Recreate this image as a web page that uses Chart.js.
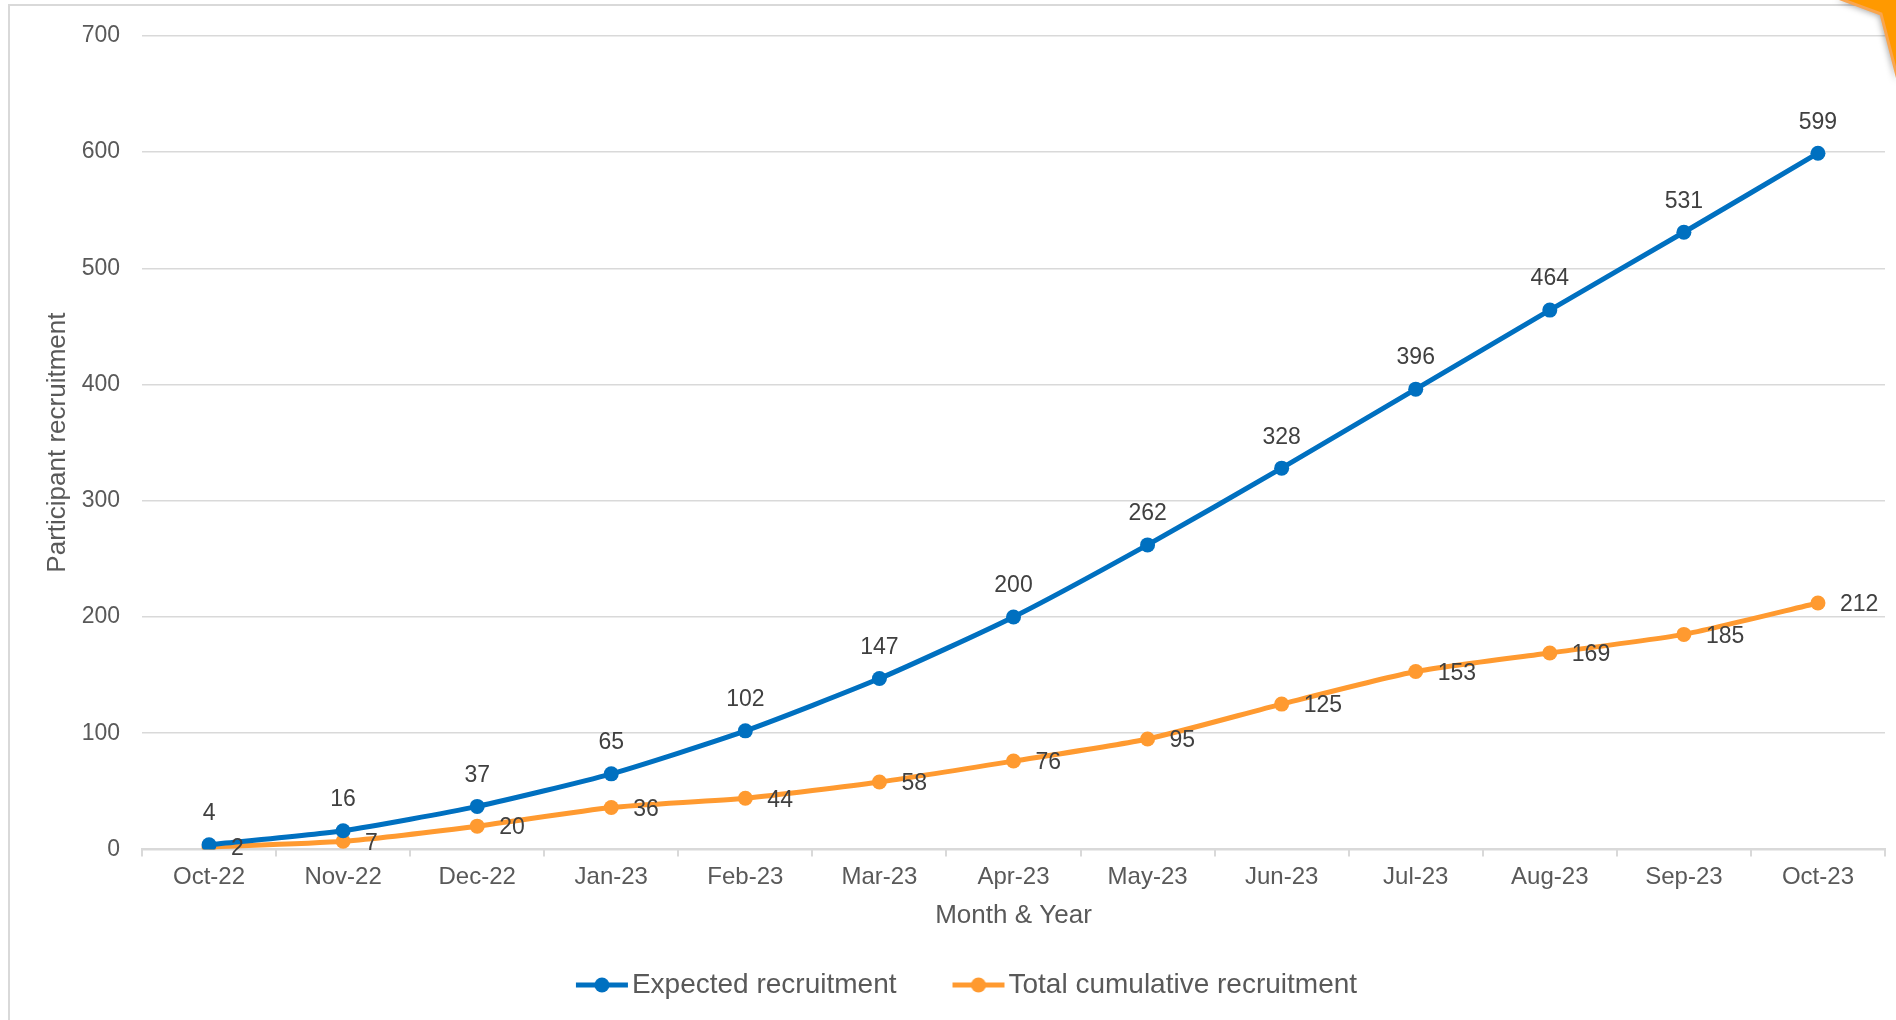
<!DOCTYPE html>
<html>
<head>
<meta charset="utf-8">
<script src="https://cdn.jsdelivr.net/npm/chart.js@4.4.0/dist/chart.umd.min.js"></script>
<style>
  html, body { margin: 0; padding: 0; background: #fff; }
  #wrap { position: relative; width: 1896px; height: 1020px; }
</style>
</head>
<body>
<div id="wrap"><canvas id="recruitChart"></canvas></div>
<script>
const months = ["Oct-22", "Nov-22", "Dec-22", "Jan-23", "Feb-23", "Mar-23", "Apr-23",
  "May-23", "Jun-23", "Jul-23", "Aug-23", "Sep-23", "Oct-23"];
const expected = [4, 16, 37, 65, 102, 147, 200, 262, 328, 396, 464, 531, 599];
const cumulative = [2, 7, 20, 36, 44, 58, 76, 95, 125, 153, 169, 185, 212];
const yTicks = [0, 100, 200, 300, 400, 500, 600, 700];

const BLUE = "#0070C0";
const ORANGE = "#FF9A30";
const FONT = "'Liberation Sans', Arial, sans-serif";

// line + dot marker for the legend (drawn off-centre so text spacing matches)
function legendMarker(color) {
  const c = document.createElement("canvas");
  c.width = 80; c.height = 18;
  const g = c.getContext("2d");
  g.strokeStyle = color;
  g.lineWidth = 5;
  g.beginPath(); g.moveTo(27, 9); g.lineTo(79, 9); g.stroke();
  g.fillStyle = color;
  g.beginPath(); g.arc(53, 9, 7.5, 0, Math.PI * 2); g.fill();
  return c;
}
const markers = [legendMarker(BLUE), legendMarker(ORANGE)];

// value labels: above for expected, to the right for cumulative
const valueLabels = {
  id: "valueLabels",
  afterDatasetsDraw(chart) {
    const ctx = chart.ctx;
    ctx.save();
    ctx.font = "23px " + FONT;
    ctx.fillStyle = "#404040";
    ctx.textBaseline = "middle";
    chart.data.datasets.forEach((ds, i) => {
      chart.getDatasetMeta(i).data.forEach((pt, j) => {
        if (i === 0) {
          ctx.textAlign = "center";
          ctx.fillText(ds.data[j], pt.x, pt.y - 31);
        } else {
          ctx.textAlign = "left";
          ctx.fillText(ds.data[j], pt.x + 22, pt.y + 2);
        }
      });
    });
    ctx.restore();
  }
};

// frame lines, orange corner, and a small nudge of the legend
const frame = {
  id: "frame",
  afterLayout(chart) {
    chart.legend.left += 16;
    chart.legend.right += 16;
  },
  beforeDraw(chart) {
    const ctx = chart.ctx;
    ctx.save();
    ctx.strokeStyle = "#d9d9d9";
    ctx.lineWidth = 2;
    ctx.beginPath();
    ctx.moveTo(9, 1020); ctx.lineTo(9, 5); ctx.lineTo(1896, 5);
    ctx.stroke();
    ctx.restore();
  },
  afterDraw(chart) {
    const ctx = chart.ctx;
    ctx.save();
    ctx.shadowColor = "rgba(0,0,0,0.35)";
    ctx.shadowBlur = 6;
    ctx.shadowOffsetX = -2;
    ctx.shadowOffsetY = 2;
    ctx.fillStyle = "#FF9900";
    ctx.beginPath();
    ctx.moveTo(1838, -2); ctx.lineTo(1881, 14); ctx.lineTo(1898, 80); ctx.lineTo(1898, -2);
    ctx.closePath();
    ctx.fill();
    ctx.shadowColor = "transparent";
    ctx.strokeStyle = "#F9A54E";
    ctx.lineWidth = 3;
    ctx.stroke();
    ctx.restore();
  }
};

const ctx = document.getElementById("recruitChart").getContext("2d");
new Chart(ctx, {
  type: "line",
  data: {
    labels: months,
    datasets: [{
      label: "Expected recruitment",
      data: expected,
      borderColor: BLUE,
      backgroundColor: BLUE,
      borderWidth: 5,
      pointRadius: 7.5,
      pointBackgroundColor: BLUE,
      pointBorderWidth: 0,
      tension: 0.2
    }, {
      label: "Total cumulative recruitment",
      data: cumulative,
      borderColor: ORANGE,
      backgroundColor: ORANGE,
      borderWidth: 5,
      pointRadius: 7.5,
      pointBackgroundColor: ORANGE,
      pointBorderWidth: 0,
      tension: 0.2
    }]
  },
  options: {
    responsive: true,
    maintainAspectRatio: false,
    animation: false,
    devicePixelRatio: 1,
    layout: { padding: { top: 35, right: 11, bottom: 11, left: 0 } },
    plugins: {
      tooltip: { enabled: false },
      legend: {
        position: "bottom",
        labels: {
          usePointStyle: true,
          pointStyleWidth: 58,
          padding: 40,
          color: "#595959",
          font: { family: FONT, size: 28 },
          generateLabels(chart) {
            return chart.data.datasets.map((ds, i) => ({
              text: ds.label,
              pointStyle: markers[i],
              fillStyle: ds.borderColor,
              strokeStyle: ds.borderColor,
              lineWidth: 0,
              fontColor: "#595959",
              datasetIndex: i
            }));
          }
        }
      }
    },
    scales: {
      x: {
        offset: true,
        grid: {
          drawOnChartArea: false,
          drawTicks: true,
          tickLength: 7,
          offset: true,
          color: "#d9d9d9",
          lineWidth: 2
        },
        border: { color: "#d9d9d9", width: 2 },
        ticks: {
          color: "#595959",
          font: { family: FONT, size: 24 },
          padding: 7,
          maxRotation: 0,
          autoSkip: false
        },
        title: {
          display: true,
          text: "Month & Year",
          color: "#595959",
          font: { family: FONT, size: 26 },
          padding: { top: 0, bottom: 0 }
        },
        afterFit(scale) { scale.height = 81.6; }
      },
      y: {
        min: 0,
        max: 700,
        afterBuildTicks(scale) { scale.ticks = yTicks.map(v => ({ value: v })); },
        grid: { color: "#d9d9d9", lineWidth: 1.5, drawTicks: false },
        border: { display: false },
        ticks: {
          color: "#595959",
          font: { family: FONT, size: 23 },
          padding: 22
        },
        title: {
          display: true,
          text: "Participant recruitment",
          color: "#595959",
          font: { family: FONT, size: 26 },
          padding: { top: 42, bottom: 0 }
        },
        afterFit(scale) { scale.width = 142; }
      }
    }
  },
  plugins: [frame, valueLabels]
});
</script>
</body>
</html>
